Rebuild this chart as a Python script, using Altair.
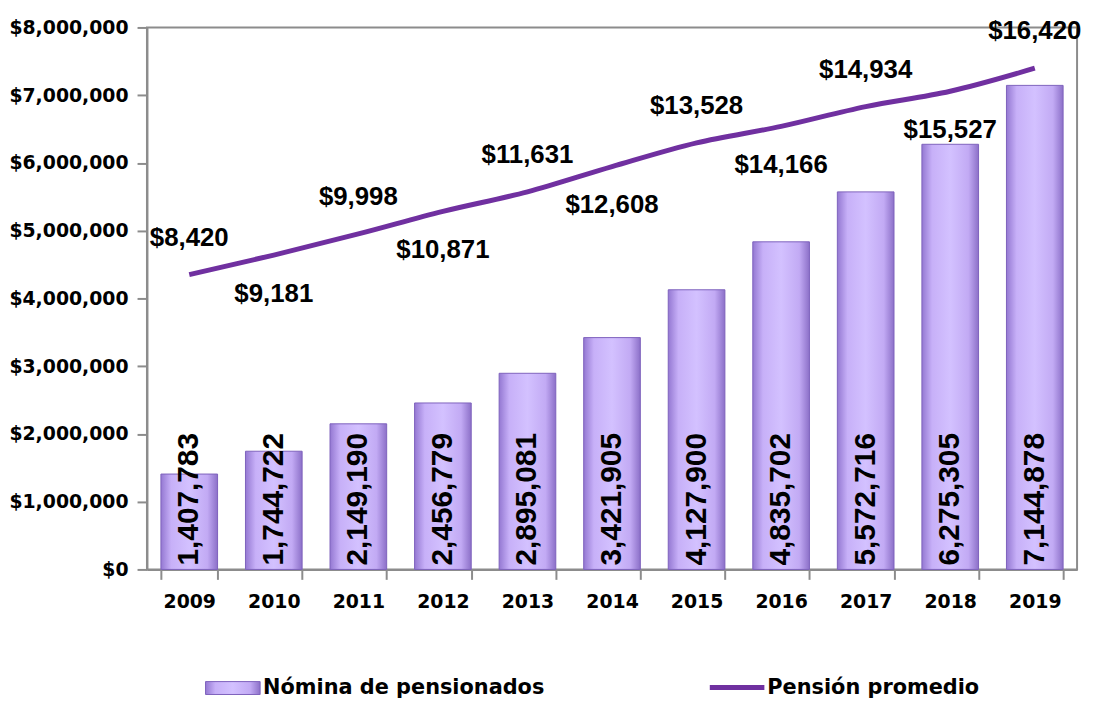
import altair as alt
import pandas as pd

years = ["2009", "2010", "2011", "2012", "2013", "2014", "2015", "2016", "2017", "2018", "2019"]
nomina = [1407783, 1744722, 2149190, 2456779, 2895081, 3421905, 4127900, 4835702, 5572716, 6275305, 7144878]
pension = [8420, 9181, 9998, 10871, 11631, 12608, 13528, 14166, 14934, 15527, 16420]
legend_bar = ["Nómina de pensionados"]
legend_line = ["Pensión promedio"]

df = pd.DataFrame({
    "year": years,
    "nomina": nomina,
    "pension": pension,
    "idx": list(range(len(years))),
})
df["nomina_lbl"] = [f"{v:,}" for v in nomina]
df["pension_lbl"] = [f"${v:,}" for v in pension]

PURPLE = "#7030A0"
AX = "#8c8c8c"

x_enc = alt.X("year:N", sort=years, title=None,
              scale=alt.Scale(paddingInner=0.33, paddingOuter=0.165),
              axis=alt.Axis(labelAngle=0, tickBand="extent", tickSize=10,
                            tickColor=AX, tickWidth=2, domainColor=AX, domainWidth=2,
                            labelFont="DejaVu Sans", labelFontWeight="bold",
                            labelFontSize=19, labelColor="black", labelPadding=13))

y_bar_scale = alt.Scale(domain=[0, 8000000])
y_line_scale = alt.Scale(domain=[-3000, 18000])

grad = alt.Gradient(
    gradient="linear",
    stops=[alt.GradientStop(color="#9478D2", offset=0),
           alt.GradientStop(color="#C7B0F8", offset=0.18),
           alt.GradientStop(color="#D3C1FF", offset=0.5),
           alt.GradientStop(color="#C2AAF4", offset=0.82),
           alt.GradientStop(color="#8C70C8", offset=1)],
    x1=0, x2=1, y1=0, y2=0)

bars = alt.Chart(df).mark_bar(color=grad, stroke="#7E62BC", strokeWidth=1).encode(
    x=x_enc,
    y=alt.Y("nomina:Q", scale=y_bar_scale, title=None,
            axis=alt.Axis(format="$,.0f", values=[0, 1e6, 2e6, 3e6, 4e6, 5e6, 6e6, 7e6, 8e6],
                          grid=False, tickSize=10, tickColor=AX, tickWidth=2,
                          domainColor=AX, domainWidth=2,
                          labelFont="DejaVu Sans", labelFontWeight="bold",
                          labelFontSize=19, labelColor="black", labelPadding=9)),
)

bar_labels = alt.Chart(df).mark_text(
    angle=270, align="left", baseline="middle", dx=4,
    font="Liberation Sans", fontWeight="bold", fontSize=30, color="black",
).encode(
    x=alt.X("year:N", sort=years),
    y=alt.Y("zero:Q", scale=y_bar_scale, axis=None),
    text="nomina_lbl:N",
).transform_calculate(zero="0")

line = alt.Chart(df).mark_line(color=PURPLE, strokeWidth=5, interpolate="monotone").encode(
    x=alt.X("year:N", sort=years),
    y=alt.Y("pension:Q", scale=y_line_scale, axis=None),
)

lbl_common = dict(font="Liberation Sans", fontWeight="bold", fontSize=26, color="black")
labels_above = alt.Chart(df).mark_text(dy=-37, **lbl_common).encode(
    x=alt.X("year:N", sort=years),
    y=alt.Y("pension:Q", scale=y_line_scale, axis=None),
    text="pension_lbl:N",
).transform_filter("datum.idx % 2 == 0")

labels_below = alt.Chart(df).mark_text(dy=39, **lbl_common).encode(
    x=alt.X("year:N", sort=years),
    y=alt.Y("pension:Q", scale=y_line_scale, axis=None),
    text="pension_lbl:N",
).transform_filter("datum.idx % 2 == 1")

# legend
lb = pd.DataFrame({"label": legend_bar})
ll = pd.DataFrame({"label": legend_line})
leg_rect = alt.Chart(lb).mark_rect(color=grad, stroke="#7E62BC").encode(
    x=alt.value(59), x2=alt.value(114), y=alt.value(659), y2=alt.value(672))
leg_rect_txt = alt.Chart(lb).mark_text(align="left", baseline="middle", font="DejaVu Sans",
                                       fontWeight="bold", fontSize=21, color="black").encode(
    x=alt.value(117), y=alt.value(666), text="label:N")
leg_line = alt.Chart(ll).mark_rule(color=PURPLE, strokeWidth=5).encode(
    x=alt.value(567), x2=alt.value(622), y=alt.value(665))
leg_line_txt = alt.Chart(ll).mark_text(align="left", baseline="middle", font="DejaVu Sans",
                                       fontWeight="bold", fontSize=21, color="black").encode(
    x=alt.value(625), y=alt.value(666), text="label:N")

chart = alt.layer(
    bars, bar_labels, line, labels_above, labels_below,
    leg_rect, leg_rect_txt, leg_line, leg_line_txt
).resolve_scale(y="independent").properties(
    width=937, height=546,
    background="white",
    autosize=alt.AutoSizeParams(type="none"),
    padding={"left": 140, "top": 17, "right": 8, "bottom": 135},
).configure_view(stroke=AX, strokeWidth=2, strokeOpacity=1)

chart.save("out.html", embed_options={"renderer": "svg", "actions": False})
